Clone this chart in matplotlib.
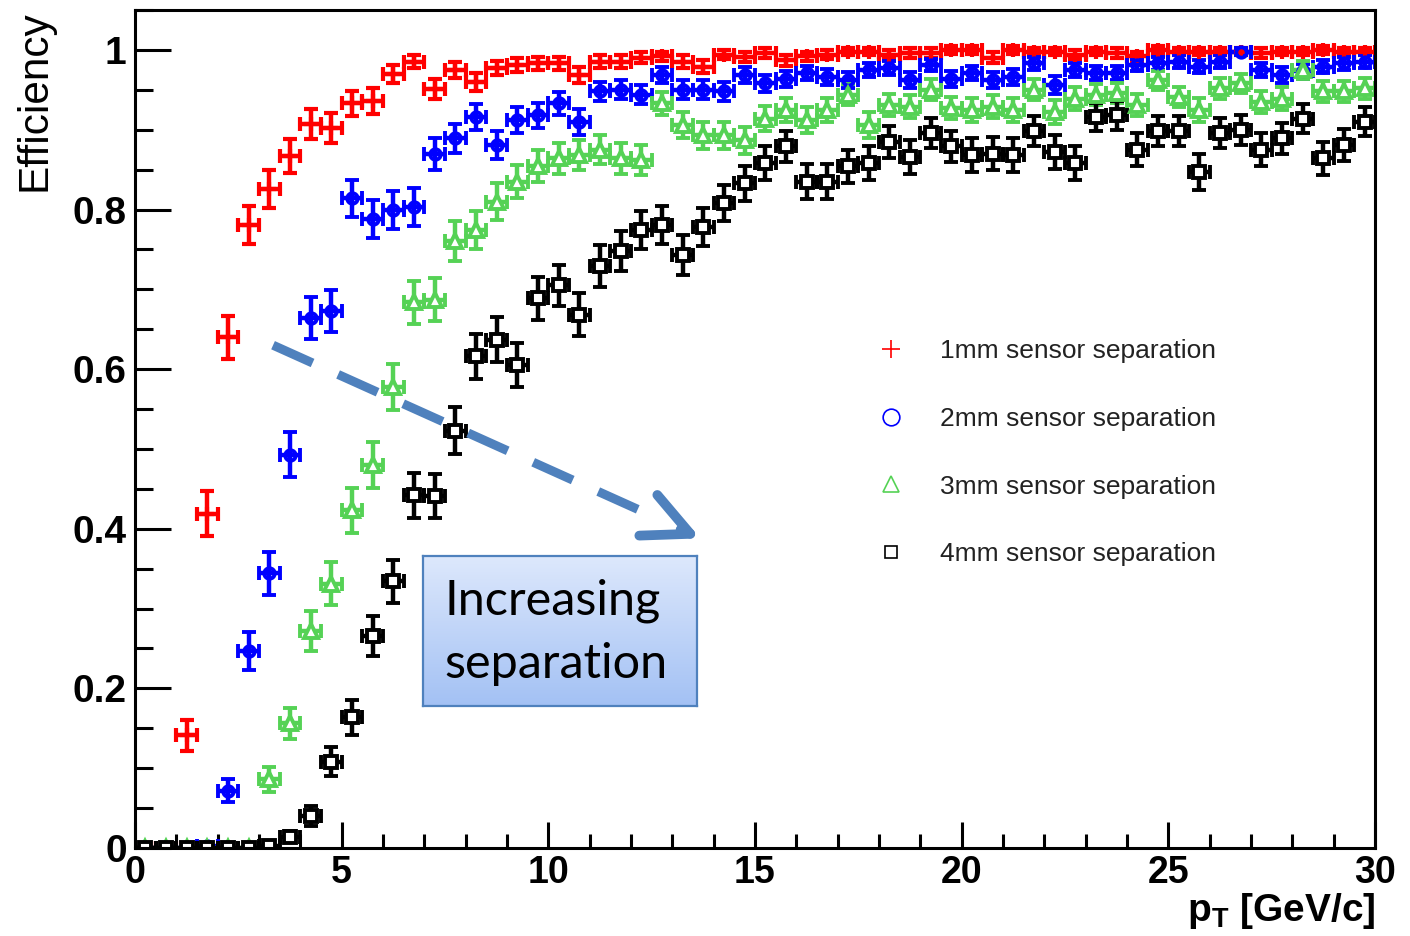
import matplotlib
matplotlib.use('Agg')
import matplotlib.pyplot as plt
from matplotlib import font_manager
from matplotlib.lines import Line2D
from matplotlib.ticker import MultipleLocator, FuncFormatter
import numpy as np

# pT bins: 0.5 GeV/c wide, 0-30 GeV/c
pt = np.arange(0.25, 30.0, 0.5)

eff_1mm = [0.0, 0.0, 0.141, 0.419, 0.640, 0.781, 0.826, 0.867, 0.907, 0.902,
           0.933, 0.936, 0.970, 0.985, 0.951, 0.975, 0.960, 0.977, 0.981, 0.983,
           0.983, 0.969, 0.985, 0.985, 0.990, 0.992, 0.985, 0.979, 0.994, 0.991,
           0.996, 0.987, 0.992, 0.994, 0.998, 0.998, 0.994, 0.996, 0.996, 1.000,
           1.000, 0.990, 1.000, 0.998, 0.998, 0.994, 0.998, 0.996, 0.992, 1.000,
           0.998, 0.998, 0.998, 0.998, 0.996, 0.998, 0.998, 1.000, 0.998, 0.998]
err_1mm = [0.002, 0.002, 0.020, 0.028, 0.027, 0.024, 0.024, 0.021, 0.019, 0.019,
           0.016, 0.016, 0.011, 0.008, 0.013, 0.010, 0.011, 0.009, 0.009, 0.008,
           0.008, 0.010, 0.008, 0.008, 0.007, 0.006, 0.008, 0.008, 0.006, 0.006,
           0.006, 0.007, 0.006, 0.006, 0.005, 0.005, 0.006, 0.006, 0.006, 0.005,
           0.005, 0.007, 0.005, 0.005, 0.005, 0.006, 0.005, 0.006, 0.006, 0.005,
           0.005, 0.005, 0.005, 0.005, 0.006, 0.005, 0.005, 0.005, 0.005, 0.005]

eff_2mm = [0.0, 0.0, 0.0, 0.003, 0.072, 0.247, 0.344, 0.493, 0.664, 0.673,
           0.814, 0.788, 0.799, 0.803, 0.870, 0.889, 0.916, 0.881, 0.912, 0.918,
           0.933, 0.910, 0.948, 0.950, 0.944, 0.969, 0.950, 0.950, 0.948, 0.969,
           0.958, 0.964, 0.971, 0.966, 0.962, 0.975, 0.977, 0.962, 0.981, 0.964,
           0.971, 0.962, 0.966, 0.983, 0.956, 0.975, 0.971, 0.971, 0.981, 0.983,
           0.985, 0.979, 0.985, 0.998, 0.975, 0.969, 0.973, 0.979, 0.983, 0.985]
err_2mm = [0.002, 0.002, 0.002, 0.003, 0.014, 0.024, 0.027, 0.028, 0.026, 0.026,
           0.023, 0.024, 0.024, 0.024, 0.020, 0.018, 0.016, 0.018, 0.016, 0.016,
           0.014, 0.016, 0.012, 0.012, 0.012, 0.010, 0.012, 0.012, 0.012, 0.010,
           0.011, 0.010, 0.009, 0.010, 0.010, 0.009, 0.009, 0.010, 0.008, 0.010,
           0.009, 0.010, 0.010, 0.008, 0.011, 0.009, 0.009, 0.009, 0.008, 0.008,
           0.008, 0.008, 0.008, 0.005, 0.009, 0.010, 0.009, 0.008, 0.008, 0.008]

eff_3mm = [0.0, 0.0, 0.0, 0.0, 0.0, 0.0, 0.086, 0.156, 0.272, 0.331,
           0.423, 0.480, 0.578, 0.684, 0.687, 0.760, 0.774, 0.810, 0.835, 0.854,
           0.864, 0.868, 0.875, 0.864, 0.862, 0.933, 0.906, 0.893, 0.893, 0.887,
           0.914, 0.925, 0.912, 0.925, 0.944, 0.906, 0.931, 0.929, 0.950, 0.927,
           0.925, 0.929, 0.925, 0.950, 0.922, 0.939, 0.944, 0.946, 0.931, 0.962,
           0.941, 0.925, 0.952, 0.958, 0.935, 0.939, 0.975, 0.948, 0.948, 0.952]
err_3mm = [0.002, 0.002, 0.002, 0.002, 0.002, 0.002, 0.016, 0.020, 0.025, 0.027,
           0.028, 0.029, 0.029, 0.027, 0.027, 0.025, 0.024, 0.023, 0.021, 0.020,
           0.019, 0.019, 0.018, 0.019, 0.019, 0.014, 0.016, 0.017, 0.017, 0.017,
           0.016, 0.015, 0.016, 0.015, 0.013, 0.016, 0.014, 0.014, 0.013, 0.014,
           0.015, 0.014, 0.015, 0.013, 0.015, 0.014, 0.013, 0.013, 0.014, 0.012,
           0.013, 0.015, 0.013, 0.012, 0.014, 0.014, 0.011, 0.013, 0.013, 0.013]

eff_4mm = [0.0, 0.0, 0.0, 0.0, 0.0, 0.0, 0.002, 0.014, 0.040, 0.108,
           0.164, 0.266, 0.334, 0.442, 0.441, 0.523, 0.616, 0.637, 0.605, 0.689,
           0.705, 0.668, 0.729, 0.748, 0.774, 0.781, 0.743, 0.778, 0.808, 0.833,
           0.858, 0.879, 0.835, 0.835, 0.854, 0.858, 0.885, 0.866, 0.896, 0.879,
           0.868, 0.870, 0.868, 0.898, 0.872, 0.858, 0.916, 0.918, 0.875, 0.898,
           0.898, 0.847, 0.896, 0.900, 0.875, 0.889, 0.914, 0.864, 0.881, 0.910]
err_4mm = [0.002, 0.002, 0.002, 0.002, 0.002, 0.002, 0.003, 0.007, 0.012, 0.018,
           0.022, 0.025, 0.027, 0.028, 0.028, 0.029, 0.028, 0.028, 0.028, 0.027,
           0.026, 0.027, 0.026, 0.025, 0.024, 0.024, 0.025, 0.024, 0.023, 0.022,
           0.021, 0.020, 0.022, 0.022, 0.021, 0.021, 0.020, 0.021, 0.019, 0.020,
           0.021, 0.021, 0.021, 0.019, 0.021, 0.021, 0.018, 0.018, 0.021, 0.019,
           0.019, 0.022, 0.019, 0.019, 0.021, 0.020, 0.018, 0.021, 0.020, 0.018]

labels = ['1mm sensor separation', '2mm sensor separation',
          '3mm sensor separation', '4mm sensor separation']

names = {f.name for f in font_manager.fontManager.ttflist}
narrow = 'Liberation Sans Narrow' if 'Liberation Sans Narrow' in names else 'Liberation Sans'
wide = 'Liberation Sans'
is_narrow = narrow != wide

plt.rcParams['mathtext.fontset'] = 'custom'
plt.rcParams['mathtext.bf'] = narrow + ':bold'
plt.rcParams['mathtext.rm'] = narrow + ':bold'

W, H = 1410, 936
fig = plt.figure(figsize=(W / 100, H / 100), dpi=100)
ax = fig.add_axes([135 / W, (H - 848) / H, 1240 / W, 838 / H])

green = '#55D255'
series = [
    (eff_1mm, err_1mm, 'red', '+', 'red', 10, 3.0),
    (eff_2mm, err_2mm, 'blue', 'o', 'none', 7.5, 2.8),
    (eff_3mm, err_3mm, green, '^', 'white', 10, 2.8),
    (eff_4mm, err_4mm, 'black', 's', 'white', 8.5, 2.8),
]
for y, e, col, mk, mfc, ms, mew in series:
    ax.errorbar(pt, y, xerr=0.25, yerr=e, fmt=mk, color=col, mec=col, mfc=mfc,
                ms=ms, mew=mew, elinewidth=3.2, capsize=5, capthick=3.4,
                ls='none')

ax.set_xlim(0, 30)
ax.set_ylim(0, 1.05)
ax.xaxis.set_major_locator(MultipleLocator(5))
ax.xaxis.set_minor_locator(MultipleLocator(1))
ax.yaxis.set_major_locator(MultipleLocator(0.2))
ax.yaxis.set_minor_locator(MultipleLocator(0.05))
fmt = FuncFormatter(lambda v, p: '%g' % round(v, 2))
ax.xaxis.set_major_formatter(fmt)
ax.yaxis.set_major_formatter(fmt)
ax.tick_params(which='both', direction='in', top=False, right=False, width=2.2)
ax.tick_params(axis='x', which='major', length=19, pad=5)
ax.tick_params(axis='x', which='minor', length=10)
ax.tick_params(axis='y', which='major', length=26, pad=6)
ax.tick_params(axis='y', which='minor', length=13)
for s in ax.spines.values():
    s.set_linewidth(2.2)

plt.setp(ax.get_xticklabels(), family=narrow, weight='bold',
         fontsize=31 if is_narrow else 27)
plt.setp(ax.get_yticklabels(), family=wide, weight='bold', fontsize=28)

fig.text(1375 / W, (H - 921) / H, r'$\mathbf{p}_{\mathbf{T}}$ [GeV/c]',
         ha='right', va='baseline', family=narrow, weight='bold',
         fontsize=31 if is_narrow else 28)
fig.text(35 / W, (H - 10) / H, 'Efficiency', rotation=90, ha='center', va='top',
         family=narrow, fontsize=32 if is_narrow else 30.5)

# legend
handles = [
    Line2D([], [], ls='none', marker='+', ms=13, mew=1.2, color='red'),
    Line2D([], [], ls='none', marker='o', ms=12, mew=1.2, mec='blue', mfc='none'),
    Line2D([], [], ls='none', marker='^', ms=12, mew=1.2, mec=green, mfc='none'),
    Line2D([], [], ls='none', marker='s', ms=8, mew=1.2, mec='black', mfc='none'),
]
leg = ax.legend(handles, labels, loc='upper left',
                bbox_to_anchor=(878 / W, (H - 339) / H), bbox_transform=fig.transFigure,
                frameon=False, borderpad=0, borderaxespad=0, handlelength=1.0,
                handletextpad=1.36, labelspacing=1.66,
                prop={'family': wide, 'size': 19})
for t in leg.get_texts():
    t.set_color('#222222')

# dashed arrow
arrow_col = '#4F81BD'
ax.plot([3.34, 12.35], [0.630, 0.420], color=arrow_col, lw=6.5,
        ls=(0, (4.8, 3.1)), solid_capstyle='butt', dash_capstyle='butt', zorder=5)
ax.annotate('', xy=(13.68, 0.388), xytext=(13.2, 0.399),
            arrowprops=dict(arrowstyle='->,head_length=3.3,head_width=1.6',
                            lw=7, color=arrow_col, mutation_scale=10,
                            shrinkA=0, shrinkB=0, capstyle='round'),
            zorder=5)

# text box with gradient fill
bx = fig.add_axes([423 / W, (H - 706) / H, 274 / W, 150 / H])
grad = np.linspace(0, 1, 256).reshape(-1, 1)
top = np.array([221, 232, 252]) / 255
bot = np.array([163, 193, 244]) / 255
img = top + (bot - top) * grad[:, :, None]
bx.imshow(img, aspect='auto', extent=(0, 1, 0, 1))
bx.set_xticks([])
bx.set_yticks([])
for s in bx.spines.values():
    s.set_color(arrow_col)
    s.set_linewidth(1.6)
bx.text(0.078, 0.607, 'Increasing', transform=bx.transAxes, ha='left',
        va='baseline', family='Lato', fontsize=35, color='black')
bx.text(0.078, 0.187, 'separation', transform=bx.transAxes, ha='left',
        va='baseline', family='Lato', fontsize=35, color='black')

fig.savefig('out.png', dpi=100)
